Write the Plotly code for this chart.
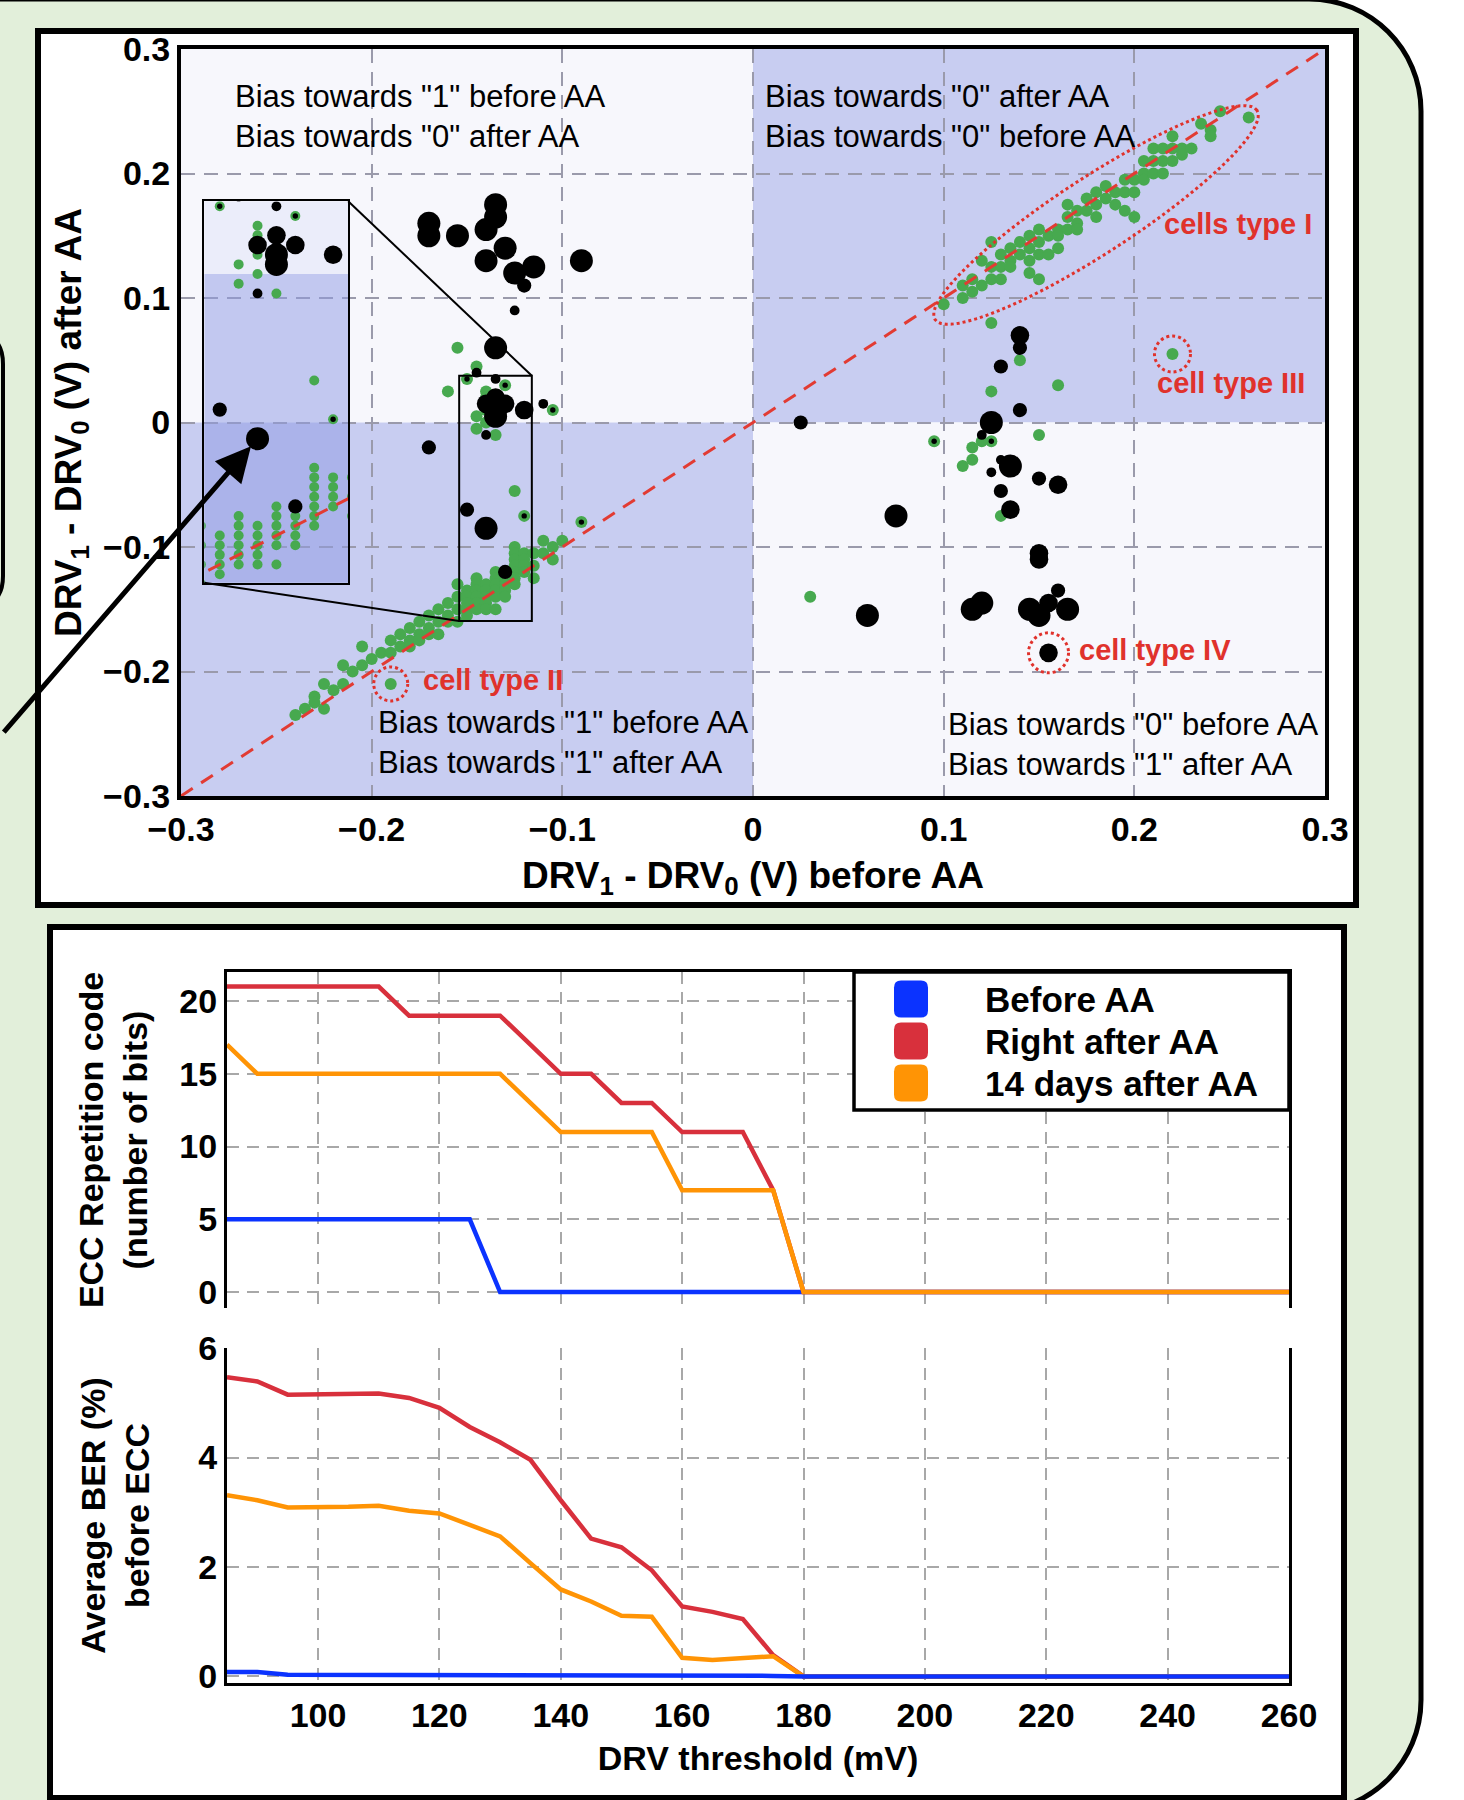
import math
import plotly.graph_objects as go

W, H = 1464, 1800

# ---------------- scatter data: DRV1-DRV0 (V) before AA (x) vs after AA (y) ----------------
green_type1 = [(0.100, 0.095), (0.110, 0.100), (0.110, 0.110), (0.115, 0.105), (0.115, 0.115), (0.120, 0.110),
               (0.120, 0.130), (0.125, 0.145), (0.125, 0.125), (0.125, 0.115), (0.130, 0.135), (0.130, 0.125),
               (0.130, 0.115), (0.135, 0.140), (0.135, 0.130), (0.135, 0.125), (0.140, 0.145), (0.140, 0.135),
               (0.145, 0.150), (0.145, 0.140), (0.145, 0.130), (0.145, 0.120), (0.150, 0.115), (0.150, 0.155),
               (0.150, 0.145), (0.150, 0.135), (0.155, 0.150), (0.155, 0.135), (0.160, 0.155), (0.160, 0.150),
               (0.160, 0.140), (0.165, 0.165), (0.165, 0.155), (0.165, 0.175), (0.170, 0.170), (0.170, 0.160),
               (0.170, 0.155), (0.175, 0.180), (0.175, 0.170), (0.180, 0.185), (0.180, 0.175), (0.180, 0.165),
               (0.185, 0.190), (0.185, 0.180), (0.190, 0.185), (0.190, 0.175), (0.195, 0.195), (0.195, 0.185),
               (0.195, 0.170), (0.200, 0.165), (0.200, 0.195), (0.200, 0.185), (0.205, 0.210), (0.205, 0.200),
               (0.205, 0.195), (0.210, 0.220), (0.210, 0.210), (0.210, 0.200), (0.215, 0.220), (0.215, 0.210),
               (0.215, 0.200), (0.220, 0.230), (0.220, 0.220), (0.220, 0.210), (0.225, 0.220), (0.225, 0.215),
               (0.230, 0.220), (0.235, 0.240), (0.240, 0.235), (0.240, 0.230), (0.245, 0.250), (0.260, 0.245)]

green_type2 = [(-0.240, -0.235), (-0.235, -0.230), (-0.230, -0.220), (-0.230, -0.225), (-0.225, -0.210),
               (-0.225, -0.230), (-0.220, -0.215), (-0.215, -0.195), (-0.215, -0.210), (-0.210, -0.200),
               (-0.205, -0.180), (-0.205, -0.195), (-0.200, -0.190), (-0.195, -0.185), (-0.190, -0.175),
               (-0.190, -0.185), (-0.185, -0.170), (-0.185, -0.180), (-0.180, -0.165), (-0.180, -0.175),
               (-0.180, -0.180), (-0.175, -0.160), (-0.175, -0.170), (-0.175, -0.175), (-0.170, -0.155),
               (-0.170, -0.165), (-0.170, -0.170), (-0.165, -0.150), (-0.165, -0.160), (-0.165, -0.170),
               (-0.160, -0.145), (-0.160, -0.155), (-0.160, -0.160), (-0.155, -0.130), (-0.155, -0.140),
               (-0.155, -0.150), (-0.155, -0.160),
               (-0.150, -0.135), (-0.150, -0.140), (-0.150, -0.145), (-0.150, -0.150), (-0.150, -0.155),
               (-0.145, -0.125), (-0.145, -0.130), (-0.145, -0.135), (-0.145, -0.140), (-0.145, -0.145),
               (-0.145, -0.150),
               (-0.140, -0.130), (-0.140, -0.135), (-0.140, -0.140), (-0.140, -0.145), (-0.140, -0.150),
               (-0.135, -0.120), (-0.135, -0.125), (-0.135, -0.130), (-0.135, -0.135), (-0.135, -0.140),
               (-0.135, -0.150),
               (-0.130, -0.125), (-0.130, -0.130), (-0.130, -0.135), (-0.130, -0.140),
               (-0.125, -0.100), (-0.125, -0.105), (-0.125, -0.110), (-0.125, -0.115), (-0.125, -0.120),
               (-0.125, -0.125), (-0.125, -0.130),
               (-0.120, -0.105), (-0.120, -0.110), (-0.120, -0.115), (-0.120, -0.120),
               (-0.115, -0.105), (-0.115, -0.115), (-0.115, -0.125), (-0.110, -0.095), (-0.110, -0.105),
               (-0.105, -0.100), (-0.105, -0.110), (-0.100, -0.095)]

green_scattered = [(-0.155, 0.060), (-0.145, 0.045), (-0.150, 0.035), (-0.130, 0.030), (-0.160, 0.025),
                   (-0.140, 0.025), (-0.140, 0.020), (-0.140, 0.015), (-0.140, 0.010), (-0.145, 0.005),
                   (-0.140, 0.000), (-0.145, -0.005), (-0.135, -0.010), (-0.105, 0.010), (-0.125, -0.055),
                   (-0.120, -0.075), (-0.090, -0.080), (-0.190, -0.210),
                   (0.125, 0.080), (0.140, 0.050), (0.160, 0.030), (0.125, 0.025), (0.220, 0.055),
                   (0.150, -0.010), (0.120, -0.015), (0.125, -0.015), (0.095, -0.015), (0.115, -0.020),
                   (0.115, -0.030), (0.110, -0.035), (0.130, -0.075), (0.030, -0.140)]

# black cells: (x, y, relative weight 1..5)
black_cells = [(-0.135, 0.175, 5), (-0.135, 0.165, 5), (-0.170, 0.160, 5), (-0.170, 0.150, 5), (-0.155, 0.150, 5),
               (-0.140, 0.155, 5), (-0.130, 0.140, 5), (-0.140, 0.130, 5), (-0.125, 0.120, 5), (-0.115, 0.125, 5),
               (-0.120, 0.110, 3), (-0.090, 0.130, 5), (-0.125, 0.090, 2), (-0.135, 0.060, 5), (-0.145, 0.040, 2),
               (-0.150, 0.035, 1), (-0.135, 0.035, 2), (-0.130, 0.030, 1), (-0.135, 0.020, 4), (-0.140, 0.015, 4),
               (-0.130, 0.015, 4), (-0.135, 0.010, 5), (-0.135, 0.005, 5), (-0.120, 0.010, 4), (-0.110, 0.015, 2),
               (-0.105, 0.010, 1), (-0.140, -0.010, 2), (-0.170, -0.020, 3), (-0.150, -0.070, 3), (-0.120, -0.075, 1),
               (-0.140, -0.085, 5), (-0.090, -0.080, 1), (-0.130, -0.120, 3),
               (0.140, 0.070, 4), (0.140, 0.060, 3), (0.130, 0.045, 3), (0.140, 0.010, 3), (0.025, 0.000, 3),
               (0.125, 0.000, 5), (0.120, -0.010, 2), (0.095, -0.015, 1), (0.125, -0.015, 1), (0.130, -0.030, 2),
               (0.135, -0.035, 5), (0.125, -0.040, 2), (0.150, -0.045, 3), (0.160, -0.050, 4), (0.130, -0.055, 3),
               (0.135, -0.070, 4), (0.075, -0.075, 5), (0.150, -0.105, 4), (0.150, -0.110, 4), (0.060, -0.155, 5),
               (0.115, -0.150, 5), (0.120, -0.145, 5), (0.160, -0.135, 3), (0.145, -0.150, 5), (0.150, -0.155, 5),
               (0.155, -0.145, 4), (0.165, -0.150, 5), (0.155, -0.185, 4)]

scatter_tickvals = [-0.3, -0.2, -0.1, 0.0, 0.1, 0.2, 0.3]
scatter_ticktext = ["\u22120.3", "\u22120.2", "\u22120.1", "0", "0.1", "0.2", "0.3"]

quadrant_labels = ['Bias towards "1" before AA<br>Bias towards "0" after AA',
                   'Bias towards "0" after AA<br>Bias towards "0" before AA',
                   'Bias towards "1" before AA<br>Bias towards "1" after AA',
                   'Bias towards "0" before AA<br>Bias towards "1" after AA']
quadrant_label_pos = [(-0.2727, 0.2454), (0.0053, 0.2454), (-0.1975, -0.2572), (0.1012, -0.2590)]
cell_labels = ["cells type I", "cell type III", "cell type IV", "cell type II"]
cell_label_pos = [(0.2145, 0.1594), (0.2108, 0.0317), (0.1700, -0.1827), (-0.1741, -0.2068)]

# ---------------- ECC / BER vs DRV threshold ----------------
drv_threshold_mv = [85, 90, 95, 100, 105, 110, 115, 120, 125, 130, 135, 140, 145, 150, 155, 160, 165, 170,
                    175, 180, 185, 190, 195, 200, 205, 210, 215, 220, 225, 230, 235, 240, 245, 250, 255, 260]
ecc_before = [5, 5, 5, 5, 5, 5, 5, 5, 5, 0, 0, 0, 0, 0, 0, 0, 0, 0,
              0, 0, 0, 0, 0, 0, 0, 0, 0, 0, 0, 0, 0, 0, 0, 0, 0, 0]
ecc_right_after = [21, 21, 21, 21, 21, 21, 19, 19, 19, 19, 17, 15, 15, 13, 13, 11, 11, 11,
                   7, 0, 0, 0, 0, 0, 0, 0, 0, 0, 0, 0, 0, 0, 0, 0, 0, 0]
ecc_14_days = [17, 15, 15, 15, 15, 15, 15, 15, 15, 15, 13, 11, 11, 11, 11, 7, 7, 7,
               7, 0, 0, 0, 0, 0, 0, 0, 0, 0, 0, 0, 0, 0, 0, 0, 0, 0]
ber_before = [0.08, 0.08, 0.03, 0.03, 0.03, 0.03, 0.03, 0.03, 0.02, 0.01, 0.01, 0.01, 0.01, 0.01, 0.01, 0.01,
              0.01, 0.01, 0.01, 0, 0, 0, 0, 0, 0, 0, 0, 0, 0, 0, 0, 0, 0, 0, 0, 0]
ber_right_after = [5.47, 5.39, 5.15, 5.15, 5.16, 5.17, 5.09, 4.91, 4.56, 4.28, 3.96, 3.22, 2.52, 2.36, 1.94,
                   1.28, 1.18, 1.05, 0.39, 0, 0, 0, 0, 0, 0, 0, 0, 0, 0, 0, 0, 0, 0, 0, 0, 0]
ber_14_days = [3.31, 3.22, 3.09, 3.09, 3.10, 3.12, 3.03, 2.98, 2.76, 2.56, 2.07, 1.59, 1.37, 1.11, 1.09,
               0.34, 0.30, 0.33, 0.37, 0, 0, 0, 0, 0, 0, 0, 0, 0, 0, 0, 0, 0, 0, 0, 0, 0]
series_names = ["Before AA", "Right after AA", "14 days after AA"]
thr_tickvals = [100, 120, 140, 160, 180, 200, 220, 240, 260]
ecc_tickvals = [0, 5, 10, 15, 20]
ber_tickvals = [0, 2, 4, 6]

# ---------------- styles ----------------
FONT = "Liberation Sans, Arial, Helvetica, sans-serif"
GREEN = "#47a94f"
RED_TXT = "#e0322c"
DIAG_RED = "#e23b33"
QUAD_LIGHT = "#f7f7fc"
QUAD_BLUE = "#c8cdf1"
INSET_LIGHT = "rgba(224,228,248,0.5)"
INSET_BLUE = "rgba(141,153,227,0.5)"
PANEL_GREEN = "#e2efda"
GRID_MAIN = "#9a9aab"
GRID_BOT = "#a8a8a8"
SERIES_COLORS = ["#0b33ff", "#d8303c", "#ff9405"]


def fx(p):
    return p / W


def fy(p):
    return 1 - p / H


XR = [-0.3, 0.3]
YR = [-0.3, 0.3]
MAIN_DX = [fx(181), fx(1325)]
MAIN_DY = [fy(796), fy(49)]
BOT_DX = [fx(227), fx(1289)]
ECC_DY = [fy(1308), fy(972)]
BER_DY = [fy(1683), fy(1348)]

INSET_BOX = (-0.2878, -0.2123, -0.1287, 0.1777)   # where the magnified view sits (main data units)
ZOOM_BOX = (-0.1541, -0.1160, -0.1594, 0.0376)    # region that is magnified


def dom_x(v):
    return MAIN_DX[0] + (v - XR[0]) / (XR[1] - XR[0]) * (MAIN_DX[1] - MAIN_DX[0])


def dom_y(v):
    return MAIN_DY[0] + (v - YR[0]) / (YR[1] - YR[0]) * (MAIN_DY[1] - MAIN_DY[0])


greens = green_type1 + green_type2 + green_scattered
gx = [p[0] for p in greens]
gy = [p[1] for p in greens]
bx = [p[0] for p in black_cells]
by = [p[1] for p in black_cells]
bsize = [1 + 4.4 * p[2] for p in black_cells]

fig = go.Figure()

for xa, ya, gsz in (("x", "y", 12), ("x4", "y4", 10)):
    fig.add_trace(go.Scatter(x=gx, y=gy, mode="markers", xaxis=xa, yaxis=ya, showlegend=False,
                             marker=dict(color=GREEN, size=gsz, opacity=1, line=dict(width=0))))
    fig.add_trace(go.Scatter(x=bx, y=by, mode="markers", xaxis=xa, yaxis=ya, showlegend=False,
                             marker=dict(color="black", size=bsize, opacity=1, line=dict(width=0))))
    fig.add_trace(go.Scatter(x=XR, y=YR, mode="lines", xaxis=xa, yaxis=ya, showlegend=False,
                             line=dict(color=DIAG_RED, width=3, dash="14px,10px")))

# ECC panel (orange on top)
for ys, name, col in ((ecc_before, series_names[0], SERIES_COLORS[0]),
                      (ecc_right_after, series_names[1], SERIES_COLORS[1]),
                      (ecc_14_days, series_names[2], SERIES_COLORS[2])):
    fig.add_trace(go.Scatter(x=drv_threshold_mv, y=ys, mode="lines", name=name, xaxis="x2", yaxis="y2",
                             showlegend=False, line=dict(color=col, width=4.5)))
# BER panel (blue on top)
for ys, name, col in ((ber_right_after, series_names[1], SERIES_COLORS[1]),
                      (ber_14_days, series_names[2], SERIES_COLORS[2]),
                      (ber_before, series_names[0], SERIES_COLORS[0])):
    fig.add_trace(go.Scatter(x=drv_threshold_mv, y=ys, mode="lines", name=name, xaxis="x3", yaxis="y3",
                             showlegend=False, line=dict(color=col, width=4.5)))

tick_bold = dict(family=FONT, size=34, color="black", weight="bold")
main_title_font = dict(family=FONT, size=37, color="black", weight="bold")
bot_title_font = dict(family=FONT, size=34, color="black", weight="bold")

main_axis = dict(range=XR, tickvals=scatter_tickvals, ticktext=scatter_ticktext, tickfont=tick_bold,
                 showgrid=True, gridcolor=GRID_MAIN, gridwidth=2, griddash="14px,9px", zeroline=False,
                 showline=True, linecolor="black", linewidth=4, mirror=True, ticks="")

shapes = []
# outer light-green rounded panel
r, k = 112, 0.552
R_, T_, B_ = 1421, -1, 1812
shapes.append(dict(type="path", xref="paper", yref="paper", layer="below",
                   path=(f"M{fx(-40)},{fy(T_)} L{fx(R_ - r)},{fy(T_)} "
                         f"C{fx(R_ - r + k * r)},{fy(T_)} {fx(R_)},{fy(T_ + r - k * r)} {fx(R_)},{fy(T_ + r)} "
                         f"L{fx(R_)},{fy(B_ - r)} "
                         f"C{fx(R_)},{fy(B_ - r + k * r)} {fx(R_ - r + k * r)},{fy(B_)} {fx(R_ - r)},{fy(B_)} "
                         f"L{fx(-40)},{fy(B_)} Z"),
                   fillcolor=PANEL_GREEN, line=dict(color="black", width=5)))
# partial neighbouring panel on the left edge
shapes.append(dict(type="path", xref="paper", yref="paper", layer="below",
                   path=(f"M{fx(-40)},{fy(333)} L{fx(-28)},{fy(333)} Q{fx(3)},{fy(333)} {fx(3)},{fy(364)} "
                         f"L{fx(3)},{fy(576)} Q{fx(3)},{fy(607)} {fx(-28)},{fy(607)} L{fx(-40)},{fy(607)}"),
                   fillcolor="rgba(0,0,0,0)", line=dict(color="black", width=4)))
# white panels
shapes.append(dict(type="rect", xref="paper", yref="paper", layer="below",
                   x0=fx(38), x1=fx(1356), y0=fy(905), y1=fy(31),
                   fillcolor="white", line=dict(color="black", width=6)))
shapes.append(dict(type="rect", xref="paper", yref="paper", layer="below",
                   x0=fx(50), x1=fx(1344), y0=fy(1798), y1=fy(927),
                   fillcolor="white", line=dict(color="black", width=6)))
# quadrant shading
for (x0, x1, y0, y1, c) in ((XR[0], 0, 0, YR[1], QUAD_LIGHT), (0, XR[1], 0, YR[1], QUAD_BLUE),
                            (XR[0], 0, YR[0], 0, QUAD_BLUE), (0, XR[1], YR[0], 0, QUAD_LIGHT)):
    shapes.append(dict(type="rect", xref="x", yref="y", layer="below", x0=x0, x1=x1, y0=y0, y1=y1,
                       fillcolor=c, line=dict(width=0)))
# inset shading (semi-transparent copy of the zoomed quadrants)
shapes.append(dict(type="rect", xref="x4", yref="y4", layer="below", x0=ZOOM_BOX[0], x1=ZOOM_BOX[1],
                   y0=0, y1=ZOOM_BOX[3], fillcolor=INSET_LIGHT, line=dict(width=0)))
shapes.append(dict(type="rect", xref="x4", yref="y4", layer="below", x0=ZOOM_BOX[0], x1=ZOOM_BOX[1],
                   y0=ZOOM_BOX[2], y1=0, fillcolor=INSET_BLUE, line=dict(width=0)))
# zoom rectangle and connectors
shapes.append(dict(type="rect", xref="x", yref="y", x0=ZOOM_BOX[0], x1=ZOOM_BOX[1], y0=ZOOM_BOX[2],
                   y1=ZOOM_BOX[3], line=dict(color="black", width=2)))
shapes.append(dict(type="line", xref="x", yref="y", x0=INSET_BOX[1], y0=INSET_BOX[3], x1=ZOOM_BOX[1],
                   y1=ZOOM_BOX[3], line=dict(color="black", width=2)))
shapes.append(dict(type="line", xref="x", yref="y", x0=INSET_BOX[0], y0=INSET_BOX[2], x1=ZOOM_BOX[0],
                   y1=ZOOM_BOX[2], line=dict(color="black", width=2)))
# dotted highlight circles
for (cx, cy, rad) in ((-0.190, -0.210, 17), (0.220, 0.055, 18), (0.155, -0.185, 20)):
    shapes.append(dict(type="circle", xref="x", yref="y", xsizemode="pixel", ysizemode="pixel",
                       xanchor=cx, yanchor=cy, x0=-rad, x1=rad, y0=-rad, y1=rad,
                       line=dict(color=RED_TXT, width=3, dash="3px,3px")))
# rotated dotted ellipse around type I cells
ea, eb, eth = 192, 38, math.radians(33)
pts = []
for i in range(73):
    t = 2 * math.pi * i / 72
    ex = ea * math.cos(t) * math.cos(eth) - eb * math.sin(t) * math.sin(eth)
    ey = ea * math.cos(t) * math.sin(eth) + eb * math.sin(t) * math.cos(eth)
    pts.append(f"{ex:.2f},{ey:.2f}")
shapes.append(dict(type="path", xref="x", yref="y", xsizemode="pixel", ysizemode="pixel",
                   xanchor=0.1799, yanchor=0.1667, path="M" + " L".join(pts) + " Z",
                   line=dict(color=RED_TXT, width=3, dash="3px,3px")))
# legend box
shapes.append(dict(type="rect", xref="paper", yref="paper", x0=fx(854), x1=fx(1289), y0=fy(1110),
                   y1=fy(972), fillcolor="white", line=dict(color="black", width=3.5)))
sw, sh, sr = 34, 37, 7
sq_path = (f"M{-sw/2+sr},{-sh/2} L{sw/2-sr},{-sh/2} Q{sw/2},{-sh/2} {sw/2},{-sh/2+sr} "
           f"L{sw/2},{sh/2-sr} Q{sw/2},{sh/2} {sw/2-sr},{sh/2} L{-sw/2+sr},{sh/2} "
           f"Q{-sw/2},{sh/2} {-sw/2},{sh/2-sr} L{-sw/2},{-sh/2+sr} Q{-sw/2},{-sh/2} {-sw/2+sr},{-sh/2} Z")
legend_rows = [999, 1041, 1083]
for row, col in zip(legend_rows, SERIES_COLORS):
    shapes.append(dict(type="path", xref="paper", yref="paper", xsizemode="pixel", ysizemode="pixel",
                       xanchor=fx(911), yanchor=fy(row), path=sq_path, fillcolor=col, line=dict(width=0)))

annotations = []
for txt, (ax_, ay_) in zip(quadrant_labels, quadrant_label_pos):
    annotations.append(dict(x=ax_, y=ay_, xref="x", yref="y", text=txt, showarrow=False, xanchor="left",
                            yanchor="middle", align="left", font=dict(family=FONT, size=31, color="black")))
for txt, (ax_, ay_) in zip(cell_labels, cell_label_pos):
    annotations.append(dict(x=ax_, y=ay_, xref="x", yref="y", text=txt, showarrow=False, xanchor="left",
                            yanchor="middle", font=dict(family=FONT, size=29, color=RED_TXT, weight="bold")))
for row, name in zip(legend_rows, series_names):
    annotations.append(dict(x=fx(983), y=fy(row), xref="paper", yref="paper", text=name, showarrow=False,
                            xanchor="left", yanchor="middle",
                            font=dict(family=FONT, size=35, color="black", weight="bold")))
annotations.append(dict(x=-0.140, y=-0.085, xref="x4", yref="y4", text="", showarrow=True, axref="pixel",
                        ayref="pixel", ax=-255, ay=295, arrowhead=2, arrowsize=1.4, arrowwidth=5,
                        arrowcolor="black", standoff=10))

bot_grid = dict(showgrid=True, gridcolor=GRID_BOT, gridwidth=2, griddash="12px,8px", zeroline=False, ticks="")

fig.update_layout(
    width=W, height=H, margin=dict(l=0, r=0, t=0, b=0, pad=0, autoexpand=False),
    paper_bgcolor="white", plot_bgcolor="rgba(0,0,0,0)",
    font=dict(family=FONT, color="black"),
    showlegend=False,
    xaxis=dict(domain=MAIN_DX, anchor="y", **main_axis,
               title=dict(text="DRV<sub>1</sub> - DRV<sub>0</sub> (V) before AA", font=main_title_font,
                          standoff=16)),
    yaxis=dict(domain=MAIN_DY, anchor="x", **main_axis,
               title=dict(text="DRV<sub>1</sub> - DRV<sub>0</sub> (V) after AA", font=main_title_font,
                          standoff=11)),
    xaxis2=dict(domain=BOT_DX, anchor="y2", range=[85, 260], tickvals=thr_tickvals, showticklabels=False,
                side="top", showline=True, linecolor="black", linewidth=3, **bot_grid),
    yaxis2=dict(domain=ECC_DY, anchor="x2", range=[-1.1, 22], tickvals=ecc_tickvals, tickfont=tick_bold,
                showline=True, linecolor="black", linewidth=3, mirror=True, **bot_grid,
                title=dict(text="ECC Repetition code<br>(number of bits)", font=bot_title_font, standoff=22)),
    xaxis3=dict(domain=BOT_DX, anchor="y3", range=[85, 260], tickvals=thr_tickvals, tickfont=tick_bold,
                showline=True, linecolor="black", linewidth=3, **bot_grid,
                title=dict(text="DRV threshold (mV)", font=bot_title_font, standoff=14)),
    yaxis3=dict(domain=BER_DY, anchor="x3", range=[-0.12, 6.003], tickvals=ber_tickvals, tickfont=tick_bold,
                showline=True, linecolor="black", linewidth=3, mirror=True, **bot_grid,
                title=dict(text="Average BER (%)<br>before ECC", font=bot_title_font, standoff=39)),
    xaxis4=dict(domain=[dom_x(INSET_BOX[0]), dom_x(INSET_BOX[1])], anchor="y4",
                range=[ZOOM_BOX[0], ZOOM_BOX[1]], showgrid=False, zeroline=False, showticklabels=False,
                ticks="", showline=True, linecolor="black", linewidth=2, mirror=True),
    yaxis4=dict(domain=[dom_y(INSET_BOX[2]), dom_y(INSET_BOX[3])], anchor="x4",
                range=[ZOOM_BOX[2], ZOOM_BOX[3]], showgrid=False, zeroline=False, showticklabels=False,
                ticks="", showline=True, linecolor="black", linewidth=2, mirror=True),
    shapes=shapes,
    annotations=annotations,
)

fig.write_html("out.html", config={"displayModeBar": False},
               post_script="document.body.style.margin='0px';")
